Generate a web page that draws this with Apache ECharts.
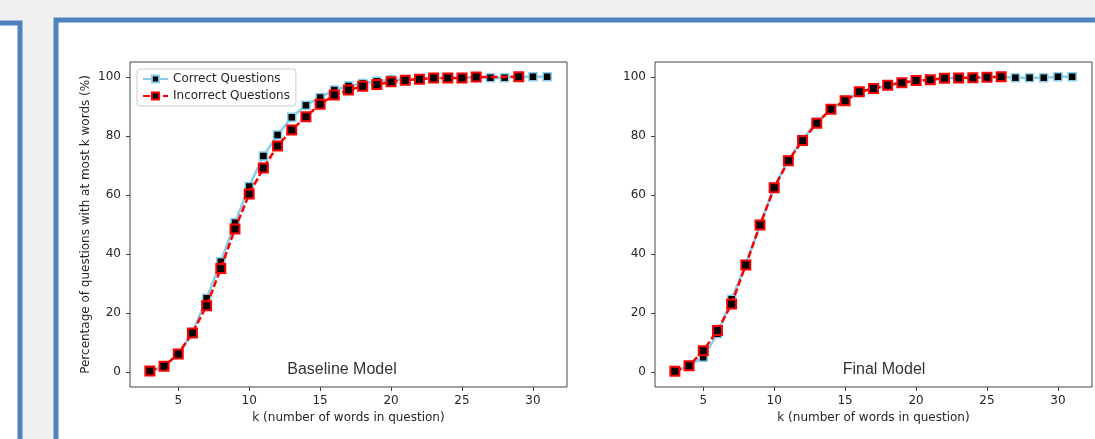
<!DOCTYPE html>
<html>
<head>
<meta charset="utf-8">
<script src="https://cdn.jsdelivr.net/npm/echarts@6/dist/echarts.min.js"></script>
<style>
  html, body { margin: 0; padding: 0; background: #f0f0f0; }
  #chart { width: 1095px; height: 439px; }
</style>
</head>
<body>
<div id="chart"></div>
<script>
// k = number of words in question
var kValues = [3, 4, 5, 6, 7, 8, 9, 10, 11, 12, 13, 14, 15, 16, 17, 18, 19, 20,
  21, 22, 23, 24, 25, 26, 27, 28, 29, 30, 31];

// Baseline model
var baselineCorrect = [0.4, 2.0, 6.2, 13.3, 25.0, 37.4, 50.6, 62.9, 73.2, 80.3, 86.3,
  90.4, 93.0, 95.5, 96.9, 97.7, 98.5, 99.0, 99.0, 99.2, 99.6, 99.6, 99.6, 99.9, 99.7,
  99.7, 100, 100, 100];
var baselineIncorrectK = [3, 4, 5, 6, 7, 8, 9, 10, 11, 12, 13, 14, 15, 16, 17, 18, 19,
  20, 21, 22, 23, 24, 25, 26, 29];
var baselineIncorrect = [0.4, 2.0, 6.2, 13.3, 22.5, 35.1, 48.5, 60.3, 69.1, 76.6, 82.0,
  86.5, 90.7, 93.8, 95.5, 96.8, 97.4, 98.3, 98.8, 99.2, 99.6, 99.6, 99.6, 99.9, 100];

// Final model
var finalCorrect = [0.3, 2.2, 5.1, 13.0, 24.7, 36.6, 50.0, 62.6, 71.8, 78.8, 84.6, 89.0,
  92.0, 94.9, 96.0, 97.1, 98.0, 98.7, 99.0, 99.5, 99.6, 99.7, 99.8, 100, 99.7, 99.7,
  99.7, 100, 100];
var finalIncorrectK = [3, 4, 5, 6, 7, 8, 9, 10, 11, 12, 13, 14, 15, 16, 17, 18, 19, 20,
  21, 22, 23, 24, 25, 26];
var finalIncorrect = [0.3, 2.2, 7.3, 14.1, 23.1, 36.3, 49.8, 62.4, 71.6, 78.4, 84.3,
  89.0, 91.9, 94.9, 96.0, 97.1, 98.0, 98.7, 99.0, 99.5, 99.6, 99.7, 99.8, 100];

var xTicks = [5, 10, 15, 20, 25, 30];
var yTicks = [0, 20, 40, 60, 80, 100];

function pairs(xs, ys) {
  var out = [];
  for (var i = 0; i < ys.length; i++) {
    out.push([xs[i], ys[i]]);
  }
  return out;
}

var font = '"DejaVu Sans", sans-serif';
var textColor = "#262626";

function makeX(idx) {
  return {
    type: "value",
    gridIndex: idx,
    min: 1.6,
    max: 32.4,
    name: "k (number of words in question)",
    nameLocation: "middle",
    nameGap: 25,
    nameTextStyle: { color: textColor, fontSize: 12, fontFamily: font },
    axisLine: { show: false, onZero: false },
    splitLine: { show: false },
    axisTick: { show: true, length: 4, customValues: xTicks, lineStyle: { color: "#444" } },
    axisLabel: { customValues: xTicks, margin: 8, color: textColor, fontSize: 12, fontFamily: font },
  };
}

function makeY(idx, withName) {
  var axis = {
    type: "value",
    gridIndex: idx,
    min: -5,
    max: 105,
    axisLine: { show: false, onZero: false },
    splitLine: { show: false },
    axisTick: { show: true, length: 4, customValues: yTicks, lineStyle: { color: "#444" } },
    axisLabel: { customValues: yTicks, margin: 9, color: textColor, fontSize: 12, fontFamily: font },
  };
  if (withName) {
    axis.name = "Percentage of questions with at most k words (%)";
    axis.nameLocation = "middle";
    axis.nameGap = 38;
    axis.nameTextStyle = { color: textColor, fontSize: 12, fontFamily: font };
  }
  return axis;
}

function correctSeries(idx, data) {
  return {
    name: "Correct Questions",
    type: "line",
    xAxisIndex: idx,
    yAxisIndex: idx,
    data: data,
    symbol: "rect",
    symbolSize: 8,
    z: 3,
    lineStyle: { color: "#87CEEB", width: 2.5 },
    itemStyle: { color: "#000", borderColor: "#87CEEB", borderWidth: 1.5 },
    emphasis: { disabled: true },
  };
}

function incorrectSeries(idx, data) {
  return {
    name: "Incorrect Questions",
    type: "line",
    xAxisIndex: idx,
    yAxisIndex: idx,
    data: data,
    symbol: "rect",
    symbolSize: 9,
    z: 4,
    lineStyle: { color: "#FF0000", width: 2.5, type: [7, 3] },
    itemStyle: { color: "#000", borderColor: "#FF0000", borderWidth: 2 },
    emphasis: { disabled: true },
  };
}

var myChart = echarts.init(document.getElementById("chart"));

var option = {
  backgroundColor: "#f0f0f0",
  animation: false,
  graphic: [
    // slide panels
    {
      type: "rect", z: -10,
      shape: { x: -10, y: 23, width: 30, height: 500 },
      style: { fill: "#fff", stroke: "#4f81bd", lineWidth: 5 },
    },
    {
      type: "rect", z: -10,
      shape: { x: 56, y: 20, width: 1100, height: 500 },
      style: { fill: "#fff", stroke: "#4f81bd", lineWidth: 5 },
    },
    {
      type: "text", z: 10, x: 342, y: 370,
      style: {
        text: "Baseline Model", fill: "#333", font: '16px "Liberation Sans", Arial',
        textAlign: "center", textVerticalAlign: "middle",
      },
    },
    {
      type: "text", z: 10, x: 884, y: 370,
      style: {
        text: "Final Model", fill: "#333", font: '16px "Liberation Sans", Arial',
        textAlign: "center", textVerticalAlign: "middle",
      },
    },
  ],
  legend: {
    orient: "vertical",
    left: 137,
    top: 69,
    itemWidth: 25,
    itemHeight: 9,
    itemGap: 5,
    padding: [4, 6, 4, 5],
    borderColor: "#ccc",
    borderWidth: 1,
    borderRadius: 3,
    backgroundColor: "#fff",
    textStyle: { color: textColor, fontSize: 12, fontFamily: font },
    data: ["Correct Questions", "Incorrect Questions"],
  },
  grid: [
    { left: 130, top: 62, width: 437, height: 325, show: true, borderColor: "#444", borderWidth: 1, backgroundColor: "#fff" },
    { left: 655, top: 62, width: 437, height: 325, show: true, borderColor: "#444", borderWidth: 1, backgroundColor: "#fff" },
  ],
  xAxis: [makeX(0), makeX(1)],
  yAxis: [makeY(0, true), makeY(1, false)],
  series: [
    correctSeries(0, pairs(kValues, baselineCorrect)),
    incorrectSeries(0, pairs(baselineIncorrectK, baselineIncorrect)),
    correctSeries(1, pairs(kValues, finalCorrect)),
    incorrectSeries(1, pairs(finalIncorrectK, finalIncorrect)),
  ],
};

myChart.setOption(option);
window.addEventListener("resize", () => {
  if (myChart) myChart.resize();
});
</script>
</body>
</html>
